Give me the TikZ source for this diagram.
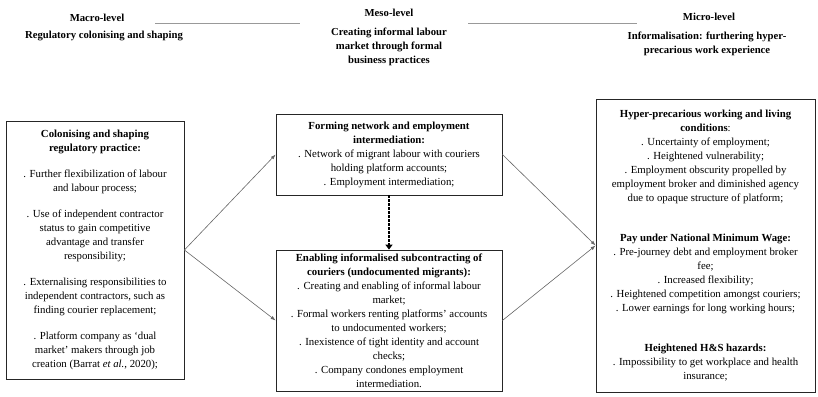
\documentclass[tikz,border=0pt]{standalone}
\usepackage{fontspec}
\setmainfont{Liberation Serif}
\usetikzlibrary{arrows.meta}
\begin{document}
\begin{tikzpicture}[x=1pt,y=-1pt,
  txt/.style={font=\fontsize{10.8}{14}\selectfont, inner sep=0pt, align=center},
  hdr/.style={font=\fontsize{10.7}{14}\selectfont\bfseries, inner sep=0pt, align=center},
  box/.style={draw=black!85, line width=0.8pt, txt, minimum width=#1},
  conn/.style={draw=black!60, line width=0.6pt, -{Latex[length=5pt,width=3.5pt]}},
  dotarrow/.style={draw=black, line width=2.4pt, dash pattern=on 2.4pt off 1.6pt, -{Triangle[length=5pt,width=7pt]}},
  sepline/.style={draw=black!40, line width=0.9pt}
]
\useasboundingbox (0,0) rectangle (818,396);

% headers
\node[hdr] (macro) at (97,18) {Macro-level};
\node[hdr] (macrosub) at (104,36) {Regulatory colonising and shaping};
\node[hdr] (meso) at (389,13) {Meso-level};
\node[hdr] (mesosub) at (389,47) {Creating informal labour\\market through formal\\business practices};
\node[hdr] (micro) at (709,17) {Micro-level};
\node[hdr] (microsub) at (707,43.5) {Informalisation: furthering hyper-\\precarious work experience};
\coordinate (l1a) at (155,23); \coordinate (l1b) at (300,23);
\coordinate (l2a) at (468,23); \coordinate (l2b) at (637,23);
\draw[sepline] (l1a) -- (l1b);
\draw[sepline] (l2a) -- (l2b);

% boxes
\node[box=178pt, minimum height=258pt] (left) at (95,250) {%
\textbf{Colonising and shaping}\\
\textbf{regulatory practice:}\\[12pt]
. Further flexibilization of labour\\
and labour process;\\[12pt]
. Use of independent contractor\\
status to gain competitive\\
advantage and transfer\\
responsibility;\\[12pt]
. Externalising responsibilities to\\
independent contractors, such as\\
finding courier replacement;\\[12pt]
. Platform company as ‘dual\\
market’ makers through job\\
creation (Barrat \textit{et al.}, 2020);};

\node[box=226pt, minimum height=81pt] (top) at (389,154.5) {%
\textbf{Forming network and employment}\\
\textbf{intermediation:}\\
. Network of migrant labour with couriers\\
holding platform accounts;\\
. Employment intermediation;};

\node[box=226pt, minimum height=141pt] (bottom) at (389,320.5) {%
\textbf{Enabling informalised subcontracting of}\\
\textbf{couriers (undocumented migrants):}\\
. Creating and enabling of informal labour\\
market;\\
. Formal workers renting platforms’ accounts\\
to undocumented workers;\\
. Inexistence of tight identity and account\\
checks;\\
. Company condones employment\\
intermediation.};

\node[box=219pt, minimum height=293pt] (right) at (705.5,245.5) {%
\textbf{Hyper-precarious working and living}\\
\textbf{conditions}:\\
. Uncertainty of employment;\\
. Heightened vulnerability;\\
. Employment obscurity propelled by\\
employment broker and diminished agency\\
due to opaque structure of platform;\\[26pt]
\textbf{Pay under National Minimum Wage:}\\
. Pre-journey debt and employment broker\\
fee;\\
. Increased flexibility;\\
. Heightened competition amongst couriers;\\
. Lower earnings for long working hours;\\[26pt]
\textbf{Heightened H\&S hazards:}\\
. Impossibility to get workplace and health\\
insurance;};

% connectors
\draw[conn] (left.east) -- (top.west);
\draw[conn] (left.east) -- (bottom.west);
\draw[conn] (top.east) -- (right.west);
\draw[conn] (bottom.east) -- (right.west);
\draw[dotarrow] (top.south) -- (bottom.north);
\end{tikzpicture}
\end{document}
